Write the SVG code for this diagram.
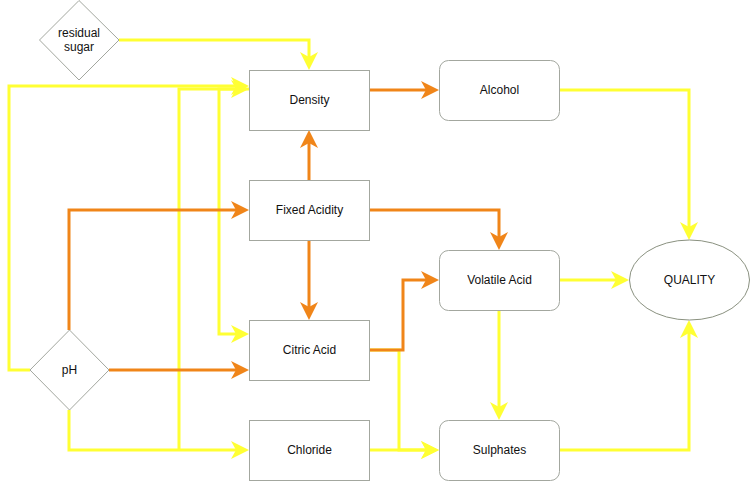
<svg xmlns="http://www.w3.org/2000/svg" width="751" height="482" viewBox="0 0 751 482">
<style>
.bg{fill:#ffffff}
.box{fill:#ffffff;stroke:#a3a79f;stroke-width:1}
.dia{fill:#ffffff;stroke:#a3a79f;stroke-width:1}
.ell{fill:#ffffff;stroke:#8a9180;stroke-width:1}
.lbl{font-family:"Liberation Sans",Arial,sans-serif;font-size:12px;fill:#111111;text-anchor:middle}
.y{fill:none;stroke:#ffff33;stroke-width:3;marker-end:url(#ay)}
.yn{fill:none;stroke:#ffff33;stroke-width:3}
.o{fill:none;stroke:#f08519;stroke-width:3;marker-end:url(#ao)}
</style>
<defs>
<marker id="ay" markerUnits="userSpaceOnUse" markerWidth="18" markerHeight="18" refX="13" refY="9" orient="auto" viewBox="0 0 18 18">
<path d="M0,0 L18,9 L0,18 L5,9 Z" fill="#ffff33"/>
</marker>
<marker id="ao" markerUnits="userSpaceOnUse" markerWidth="18" markerHeight="18" refX="13" refY="9" orient="auto" viewBox="0 0 18 18">
<path d="M0,0 L18,9 L0,18 L5,9 Z" fill="#f08519"/>
</marker>
</defs>
<rect class="bg" x="0" y="0" width="751" height="482"/>
<g id="connectors">
<path class="y" d="M119,40 H309 V65"/>
<path class="y" d="M30,370 H9 V86 H244"/>
<path class="y" d="M179,450 V89 H244"/>
<path class="y" d="M249,89 H219 V334 H244"/>
<path class="y" d="M69,410 V450 H244"/>
<path class="y" d="M369,450 H434"/>
<path class="y" d="M369,350 H399 V450 H434"/>
<path class="y" d="M499,310 V415"/>
<path class="y" d="M559,280 H624"/>
<path class="y" d="M559,90 H689 V235"/>
<path class="y" d="M559,450 H689 V325"/>
<path class="o" d="M369,90 H434"/>
<path class="o" d="M309,180 V135"/>
<path class="o" d="M369,210 H499 V245"/>
<path class="o" d="M309,240 V315"/>
<path class="o" d="M69,330 V210 H244"/>
<path class="o" d="M109,370 H244"/>
<path class="o" d="M369,350 H403 V280 H434"/>
</g>
<g id="residual-sugar">
<path class="dia" d="M79,0.5 L119,40 L79,80 L39.5,40 Z"/>
<text class="lbl" x="79" y="37">residual</text>
<text class="lbl" x="79" y="51">sugar</text>
</g>
<g id="ph">
<path class="dia" d="M69.5,330 L109,370 L69.5,410 L30,370 Z"/>
<text class="lbl" x="69.5" y="374">pH</text>
</g>
<g id="density">
<rect class="box" x="249.5" y="70.5" width="120" height="60"/>
<text class="lbl" x="309.5" y="104">Density</text>
</g>
<g id="fixed-acidity">
<rect class="box" x="249.5" y="180.5" width="120" height="60"/>
<text class="lbl" x="309.5" y="214">Fixed Acidity</text>
</g>
<g id="citric-acid">
<rect class="box" x="249.5" y="320.5" width="120" height="60"/>
<text class="lbl" x="309.5" y="354">Citric Acid</text>
</g>
<g id="chloride">
<rect class="box" x="249.5" y="420.5" width="120" height="60"/>
<text class="lbl" x="309.5" y="454">Chloride</text>
</g>
<g id="alcohol">
<rect class="box" x="439.5" y="60.5" width="120" height="60" rx="9" ry="9"/>
<text class="lbl" x="499.5" y="94">Alcohol</text>
</g>
<g id="volatile-acid">
<rect class="box" x="439.5" y="250.5" width="120" height="60" rx="9" ry="9"/>
<text class="lbl" x="499.5" y="284">Volatile Acid</text>
</g>
<g id="sulphates">
<rect class="box" x="439.5" y="420.5" width="120" height="60" rx="9" ry="9"/>
<text class="lbl" x="499.5" y="454">Sulphates</text>
</g>
<g id="quality">
<ellipse class="ell" cx="689.5" cy="280" rx="60" ry="40"/>
<text class="lbl" x="689.5" y="284">QUALITY</text>
</g>
</svg>
